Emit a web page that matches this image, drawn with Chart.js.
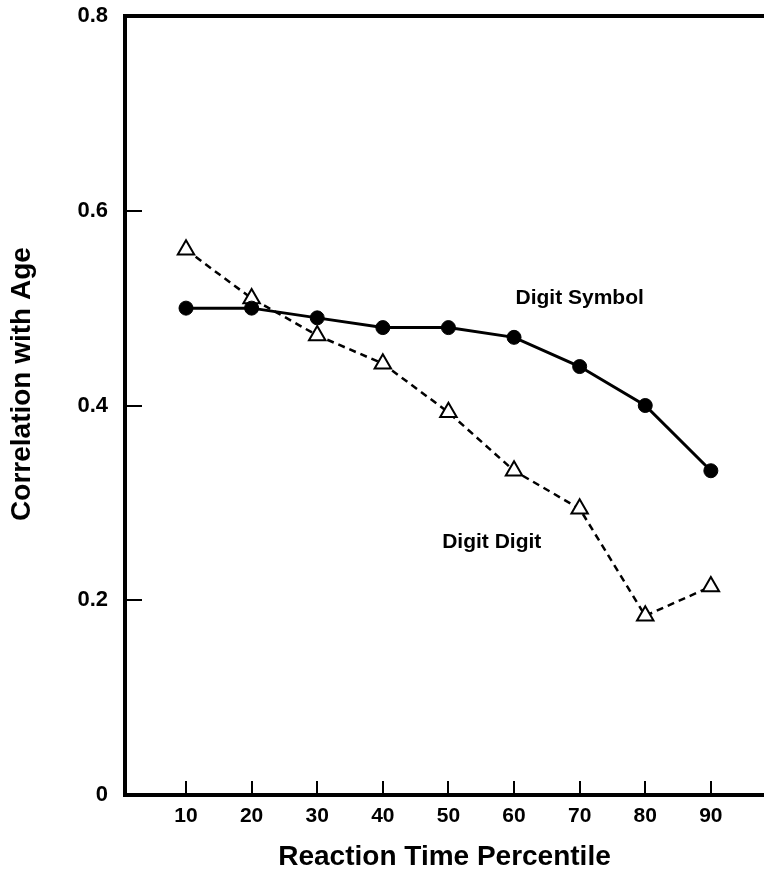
<!DOCTYPE html>
<html>
<head>
<meta charset="utf-8">
<title>Correlation with Age</title>
<script src="https://cdn.jsdelivr.net/npm/chart.js@4.4.1/dist/chart.umd.min.js"></script>
<style>
  html, body { margin: 0; padding: 0; background: #fff; }
  #wrap { width: 764px; height: 878px; }
</style>
</head>
<body>
<div id="wrap"><canvas id="chart" width="764" height="878"></canvas></div>
<script>
// data
const percentile = [10, 20, 30, 40, 50, 60, 70, 80, 90];
const digitSymbol = [0.50, 0.50, 0.49, 0.48, 0.48, 0.47, 0.44, 0.40, 0.333];
const digitDigit = [0.56, 0.51, 0.472, 0.443, 0.393, 0.333, 0.294, 0.184, 0.214];
const yTicks = [0, 0.2, 0.4, 0.6, 0.8];
const innerYTicks = [0.2, 0.4, 0.6];
const seriesLabels = [
    { text: 'Digit Symbol', x: 70, y: 0.51 },
    { text: 'Digit Digit', x: 56.6, y: 0.26 }
];
const yTitle = 'Correlation with Age';
const xTitle = 'Reaction Time Percentile';

const FONT = "'Liberation Sans', Arial, Helvetica, sans-serif";

// -------------------------------
// inward tick marks, top frame line, labels
// -------------------------------
const frameAndLabels = {
    id: 'frameAndLabels',
    afterDatasetsDraw(chart) {
        const { ctx, chartArea, scales } = chart;
        const xs = scales.x, ys = scales.y;
        ctx.save();
        ctx.strokeStyle = '#000';
        ctx.lineCap = 'butt';

        // top line
        ctx.lineWidth = 4;
        ctx.beginPath();
        ctx.moveTo(chartArea.left - 2, chartArea.top);
        ctx.lineTo(chartArea.right, chartArea.top);
        ctx.stroke();

        // ticks pointing inward
        ctx.lineWidth = 2;
        innerYTicks.forEach(v => {
            const py = Math.round(ys.getPixelForValue(v));
            ctx.beginPath();
            ctx.moveTo(chartArea.left, py);
            ctx.lineTo(chartArea.left + 17, py);
            ctx.stroke();
        });
        percentile.forEach(v => {
            const px = Math.round(xs.getPixelForValue(v));
            ctx.beginPath();
            ctx.moveTo(px, chartArea.bottom);
            ctx.lineTo(px, chartArea.bottom - 14);
            ctx.stroke();
        });

        // series labels
        ctx.fillStyle = '#000';
        ctx.font = 'bold 21px ' + FONT;
        ctx.textAlign = 'center';
        ctx.textBaseline = 'middle';
        seriesLabels.forEach(l => {
            ctx.fillText(l.text, xs.getPixelForValue(l.x), ys.getPixelForValue(l.y));
        });

        // y axis title (sits a bit above the middle in the original)
        ctx.font = 'bold 28px ' + FONT;
        ctx.translate(22, 384);
        ctx.rotate(-Math.PI / 2);
        ctx.fillText(yTitle, 0, 0);
        ctx.restore();
    }
};

const ctx = document.getElementById('chart').getContext('2d');
new Chart(ctx, {
    type: 'line',
    data: {
        datasets: [
            {
                label: 'Digit Symbol',
                data: percentile.map((p, i) => ({ x: p, y: digitSymbol[i] })),
                borderColor: '#000',
                borderWidth: 3,
                pointStyle: 'circle',
                pointRadius: 7,
                pointBackgroundColor: '#000',
                pointBorderColor: '#000',
                pointBorderWidth: 1,
                tension: 0
            },
            {
                label: 'Digit Digit',
                data: percentile.map((p, i) => ({ x: p, y: digitDigit[i] })),
                borderColor: '#000',
                borderWidth: 2.5,
                borderDash: [7, 5],
                pointStyle: 'triangle',
                pointRadius: 9.5,
                pointBackgroundColor: '#fff',
                pointBorderColor: '#000',
                pointBorderWidth: 2,
                tension: 0
            }
        ]
    },
    options: {
        responsive: false,
        animation: false,
        devicePixelRatio: 1,
        layout: { autoPadding: false, padding: { top: 16, right: 0, bottom: 0, left: 0 } },
        plugins: {
            legend: { display: false },
            tooltip: { enabled: false }
        },
        scales: {
            x: {
                type: 'linear',
                min: 0.7,
                max: 98.1,
                afterFit: s => {
                    s.height = 83;
                    s.paddingLeft = 0;
                    s.paddingRight = 0;
                },
                afterBuildTicks: s => { s.ticks = percentile.map(v => ({ value: v })); },
                grid: { display: false, drawTicks: false },
                border: { display: true, color: '#000', width: 4 },
                ticks: {
                    color: '#000',
                    padding: 9,
                    font: { family: FONT, size: 21, weight: 'bold' },
                    callback: v => String(v)
                },
                title: {
                    display: true,
                    text: xTitle,
                    color: '#000',
                    padding: { top: 0, bottom: 4 },
                    font: { family: FONT, size: 28, weight: 'bold' }
                }
            },
            y: {
                min: 0,
                max: 0.8,
                afterFit: s => {
                    s.width = 125;
                    s.paddingTop = 0;
                    s.paddingBottom = 0;
                },
                afterBuildTicks: s => { s.ticks = yTicks.map(v => ({ value: v })); },
                grid: { display: false, drawTicks: false },
                border: { display: true, color: '#000', width: 4 },
                ticks: {
                    color: '#000',
                    padding: 17,
                    font: { family: FONT, size: 22, weight: 'bold' },
                    callback: v => (v === 0 ? '0' : v.toFixed(1))
                },
                title: { display: false }
            }
        }
    },
    plugins: [frameAndLabels]
});
</script>
</body>
</html>
